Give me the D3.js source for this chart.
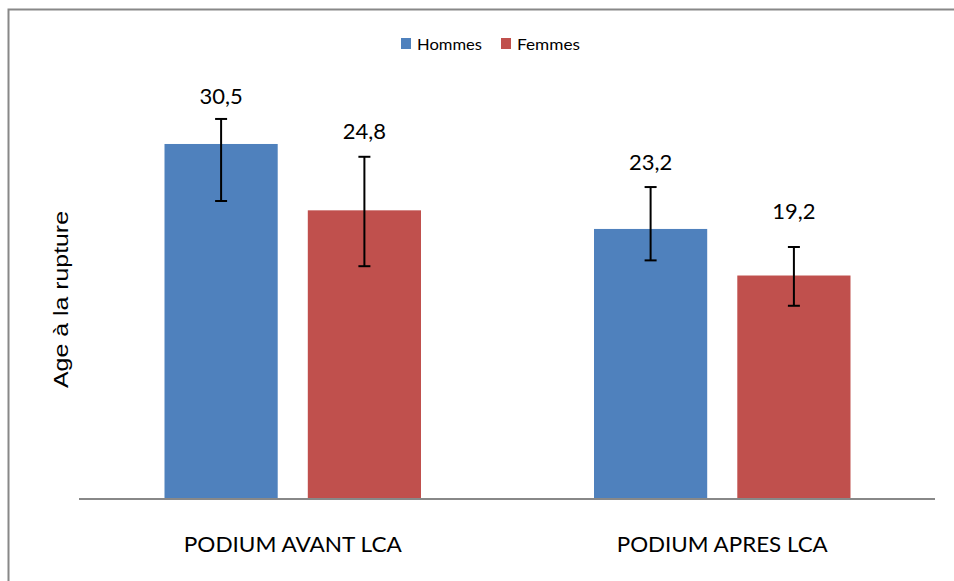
<!DOCTYPE html>
<html><head><meta charset="utf-8">
<script src="https://cdn.jsdelivr.net/npm/d3@7"></script>
<style>body{margin:0;background:#fff}svg{display:block}</style>
</head><body>
<svg id="c" width="954" height="581"></svg>
<script>
const categories = ["PODIUM AVANT LCA", "PODIUM APRES LCA"];
const series = ["Hommes", "Femmes"];
const hommes = [30.5, 23.2];
const femmes = [24.8, 19.2];
const hommesErrHigh = [32.65, 26.8];
const hommesErrLow = [25.6, 20.5];
const femmesErrHigh = [29.4, 21.65];
const femmesErrLow = [20.0, 16.6];
const hommesLabelLevel = [33.9, 28.3];
const femmesLabelLevel = [30.9, 24.05];
const colors = ["#4F81BD", "#C0504D"];

const svg = d3.select("#c");
const font = "Lato, 'Open Sans', sans-serif";

// outer border
svg.append("rect").attr("x", 8.5).attr("y", 9.5).attr("width", 1000).attr("height", 1000)
  .attr("fill", "none").attr("stroke", "#888").attr("stroke-width", 2);

const x0 = d3.scaleBand().domain(categories).range([78, 937]).padding(0);
const x1 = d3.scaleBand().domain(series).range([86.5, x0.bandwidth() - 86.5]).paddingInner(0.21).paddingOuter(0);
const y = d3.scaleLinear().domain([0, 40]).range([499, 33.4]);

const data = [];
categories.forEach((c, i) => {
  data.push({cat: c, s: "Hommes", v: hommes[i], hi: hommesErrHigh[i], lo: hommesErrLow[i], lab: hommesLabelLevel[i], col: colors[0]});
  data.push({cat: c, s: "Femmes", v: femmes[i], hi: femmesErrHigh[i], lo: femmesErrLow[i], lab: femmesLabelLevel[i], col: colors[1]});
});

const g = svg.append("g");
g.selectAll("rect.bar").data(data).join("rect").attr("class", "bar")
  .attr("x", d => x0(d.cat) + x1(d.s))
  .attr("width", x1.bandwidth())
  .attr("y", d => y(d.v))
  .attr("height", d => y(0) - y(d.v))
  .attr("fill", d => d.col);

// axis
const catWidths = {"PODIUM AVANT LCA": 218, "PODIUM APRES LCA": 211};
const ax = svg.append("g").attr("transform", `translate(0,${y(0)})`)
  .call(d3.axisBottom(x0).tickSize(0).tickPadding(38));
ax.select(".domain").attr("stroke", "#888").attr("stroke-width", 2).attr("d", `M79,0H935`);
ax.selectAll("text").attr("font-family", font).attr("font-size", 21).attr("fill", "#000")
  .attr("textLength", d => catWidths[d]).attr("lengthAdjust", "spacingAndGlyphs");

// error bars
const eb = svg.append("g").attr("stroke", "#000").attr("stroke-width", 2);
data.forEach(d => {
  const cx = x0(d.cat) + x1(d.s) + x1.bandwidth() / 2;
  eb.append("line").attr("x1", cx).attr("x2", cx).attr("y1", y(d.hi)).attr("y2", y(d.lo));
  eb.append("line").attr("x1", cx - 6).attr("x2", cx + 6).attr("y1", y(d.hi)).attr("y2", y(d.hi));
  eb.append("line").attr("x1", cx - 6).attr("x2", cx + 6).attr("y1", y(d.lo)).attr("y2", y(d.lo));
});

// value labels
svg.append("g").selectAll("text").data(data).join("text")
  .attr("x", d => x0(d.cat) + x1(d.s) + x1.bandwidth() / 2)
  .attr("y", d => y(d.lab))
  .attr("text-anchor", "middle")
  .attr("font-family", font).attr("font-size", 22).attr("fill", "#000")
  .text(d => d3.format(".1f")(d.v).replace(".", ","));

// y axis title
svg.append("text").attr("transform", "translate(68,299.5) rotate(-90)")
  .attr("text-anchor", "middle").attr("font-family", "'Liberation Sans', Arial, sans-serif")
  .attr("font-size", 21).attr("fill", "#000")
  .attr("textLength", 177).attr("lengthAdjust", "spacingAndGlyphs")
  .text("Age à la rupture");

// legend
const legX = [401, 501];
const legW = [65, 63];
const lg = svg.append("g");
series.forEach((s, i) => {
  lg.append("rect").attr("x", legX[i]).attr("y", 38).attr("width", 10).attr("height", 11).attr("fill", colors[i]);
  lg.append("text").attr("x", legX[i] + 16).attr("y", 50)
    .attr("font-family", font).attr("font-size", 15).attr("fill", "#000")
    .attr("textLength", legW[i]).attr("lengthAdjust", "spacingAndGlyphs").text(s);
});
</script>
</body></html>
